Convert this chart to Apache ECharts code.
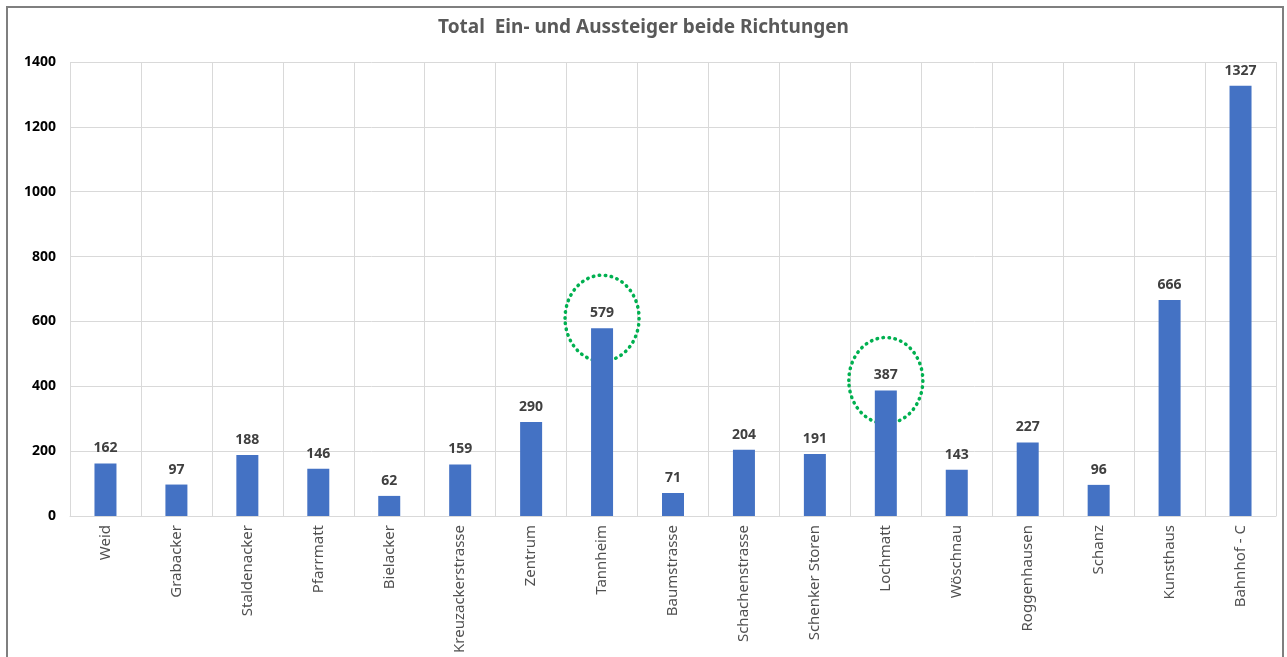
<!DOCTYPE html>
<html>
<head>
<meta charset="utf-8">
<script src="https://cdn.jsdelivr.net/npm/echarts@6/dist/echarts.min.js"></script>
<style>
  html, body { margin: 0; padding: 0; background: #fff; }
  #main { width: 1287px; height: 657px; }
</style>
</head>
<body>
<div id="main"></div>
<script>
// Haltestellen und Werte
var stationen = ['Weid', 'Grabacker', 'Staldenacker', 'Pfarrmatt', 'Bielacker', 'Kreuzackerstrasse',
  'Zentrum', 'Tannheim', 'Baumstrasse', 'Schachenstrasse', 'Schenker Storen', 'Lochmatt',
  'Wöschnau', 'Roggenhausen', 'Schanz', 'Kunsthaus', 'Bahnhof - C'];
var werte = [162, 97, 188, 146, 62, 159, 290, 579, 71, 204, 191, 387, 143, 227, 96, 666, 1327];
// markierte Haltestellen (grüne Kreise)
var markiert = ['Tannheim', 'Lochmatt'];

var chart = echarts.init(document.getElementById('main'));

var option = {
    backgroundColor: '#fff',
    animation: false,
    textStyle: { fontFamily: 'Noto Sans' },
    title: {
        text: 'Total  Ein- und Aussteiger beide Richtungen',
        left: 'center',
        top: 13,
        textStyle: { fontSize: 19, fontWeight: 'bold', color: '#595959' }
    },
    grid: { left: 70, right: 11, top: 62, bottom: 141 },
    xAxis: {
        type: 'category',
        data: stationen,
        axisTick: { show: false },
        axisLine: { lineStyle: { color: '#d9d9d9', width: 1 } },
        splitLine: { show: true, lineStyle: { color: '#d9d9d9', width: 1 } },
        axisLabel: { rotate: 90, interval: 0, margin: 9, color: '#505050', fontSize: 15 }
    },
    yAxis: {
        type: 'value',
        min: 0,
        max: 1400,
        interval: 200,
        axisLine: { show: false },
        axisTick: { show: false },
        splitLine: { lineStyle: { color: '#d9d9d9', width: 1 } },
        axisLabel: { color: '#000', fontWeight: 'bold', fontSize: 14, margin: 14,
            formatter: function (v) { return String(v); } }
    },
    series: [{
        type: 'bar',
        data: werte,
        barWidth: 22,
        itemStyle: { color: '#4472C4' },
        label: {
            show: true,
            position: 'top',
            distance: 8,
            color: '#404040',
            fontWeight: 'bold',
            fontSize: 14
        }
    }]
};

chart.setOption(option);

// Rahmen und gepunktete Ellipsen um markierte Balken
var elemente = [{
    type: 'rect',
    shape: { x: 7, y: 7, width: 1276, height: 700 },
    style: { fill: 'none', stroke: '#7f7f7f', lineWidth: 2 },
    silent: true
}];
markiert.forEach(function (name) {
    var i = stationen.indexOf(name);
    var p = chart.convertToPixel({ seriesIndex: 0 }, [i, werte[i]]);
    elemente.push({
        type: 'ellipse',
        shape: { cx: p[0], cy: p[1] - 10, rx: 37, ry: 43 },
        style: { fill: 'none', stroke: '#00B050', lineWidth: 3.5, lineDash: [0.5, 5.5], lineCap: 'round' },
        silent: true
    });
});
chart.setOption({ graphic: elemente });
</script>
</body>
</html>
